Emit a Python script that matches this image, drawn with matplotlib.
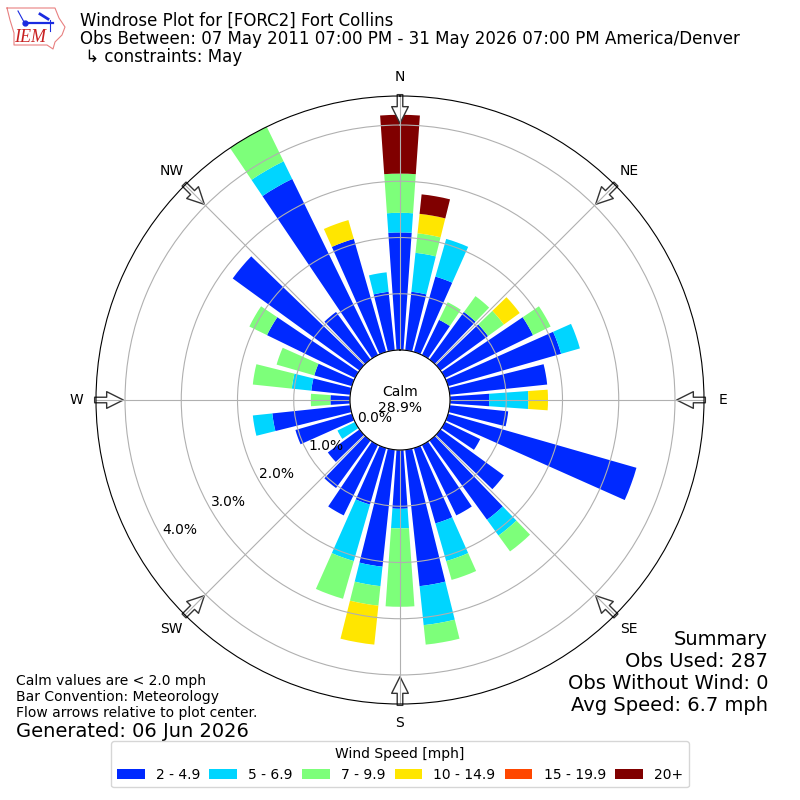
import numpy as np
import matplotlib
matplotlib.use("Agg")
import matplotlib.pyplot as plt

# observation counts per 10 degree direction bin, N going clockwise
directions = np.arange(0, 360, 10)
speed_labels = ["2 - 4.9", "5 - 6.9", "7 - 9.9", "10 - 14.9", "15 - 19.9", "20+"]
counts_2_5 = [6, 3, 4, 2, 3, 3, 5, 6, 5, 2, 3, 10, 2, 4, 5, 4, 4, 7,
              3, 6, 3, 4, 3, 2, 0, 3, 4, 1, 2, 2, 5, 8, 3, 10, 6, 3]
counts_5_7 = [1, 2, 2, 0, 0, 0, 0, 1, 0, 2, 0, 0, 0, 0, 1, 0, 2, 2,
              1, 1, 3, 0, 0, 0, 1, 0, 1, 0, 1, 0, 0, 0, 0, 1, 0, 1]
counts_7_10 = [2, 1, 0, 1, 1, 1, 1, 0, 0, 0, 0, 0, 0, 0, 1, 0, 1, 1,
               4, 1, 2, 0, 0, 0, 0, 0, 0, 1, 2, 2, 1, 0, 0, 2, 0, 0]
counts_10_15 = [0, 1, 0, 0, 0, 1, 0, 0, 0, 1, 0, 0, 0, 0, 0, 0, 0, 0,
                0, 2, 0, 0, 0, 0, 0, 0, 0, 0, 0, 0, 0, 0, 0, 0, 1, 0]
counts_15_20 = [0] * 36
counts_20_up = [3, 1, 0, 0, 0, 0, 0, 0, 0, 0, 0, 0, 0, 0, 0, 0, 0, 0,
                0, 0, 0, 0, 0, 0, 0, 0, 0, 0, 0, 0, 0, 0, 0, 0, 0, 0]
obs_used = 287
calm_pct = 28.9
compass = ["N", "NE", "E", "SE", "S", "SW", "W", "NW"]
rings = [0, 1, 2, 3, 4]

fig = plt.figure(figsize=(8, 8), dpi=100)
ax = fig.add_axes([96 / 800, 96 / 800, 608 / 800, 608 / 800], projection="polar")
ax.set_theta_zero_location("N")
ax.set_theta_direction(-1)

colors = plt.get_cmap("jet")(np.arange(1, 7) / 6)
theta = np.radians(directions)
base = np.zeros(36)
all_counts = [counts_2_5, counts_5_7, counts_7_10, counts_10_15, counts_15_20, counts_20_up]
for vals, color, label in zip(all_counts, colors, speed_labels):
    pct = np.array(vals) / obs_used * 100
    ax.bar(theta, pct, width=np.radians(8), bottom=base, color=color, label=label, linewidth=0)
    base += pct

ax.set_rorigin(-0.889)
ax.set_ylim(0, 4.516)
ax.set_yticks(rings)
ax.set_yticklabels([f"{r:.1f}%" for r in rings])
ax.set_rlabel_position(240)
ax.set_xticks(np.radians(np.arange(0, 360, 45)))
ax.set_xticklabels(compass)
ax.tick_params(axis="x", labelsize=10)
ax.tick_params(axis="y", labelsize=10)
ax.grid(True)

# flow arrows around the rim
for ang in np.arange(0, 360, 45):
    ax.annotate("", xy=(np.radians(ang), 4.03), xytext=(np.radians(ang), 4.54),
                arrowprops=dict(facecolor="white", edgecolor="#333333", width=4,
                                headwidth=12, headlength=12, shrink=0, linewidth=1),
                annotation_clip=False, zorder=1)

ax.text(0.5, 0.5, f"Calm\n{calm_pct}%", transform=ax.transAxes, ha="center", va="center",
        fontsize=10)

fig.text(80 / 800, 1 - 12 / 800,
         "Windrose Plot for [FORC2] Fort Collins\n"
         "Obs Between: 07 May 2011 07:00 PM - 31 May 2026 07:00 PM America/Denver\n"
         " \u21b3 constraints: May", fontsize=12, va="top", ha="left", linespacing=1.0)
fig.text(768 / 800, 1 - 630 / 800,
         f"Summary\nObs Used: {obs_used}\nObs Without Wind: 0\nAvg Speed: 6.7 mph",
         fontsize=14, ha="right", va="top")
fig.text(16 / 800, 1 - 674 / 800,
         "Calm values are < 2.0 mph\nBar Convention: Meteorology\nFlow arrows relative to plot center.",
         fontsize=10, ha="left", va="top")
fig.text(16 / 800, 1 - 741 / 800, "Generated: 06 Jun 2026", fontsize=14, ha="left", va="bottom")

handles, labels = ax.get_legend_handles_labels()
fig.legend(handles, labels, loc="lower center", bbox_to_anchor=(0.5, 0.007), ncol=6,
           title="Wind Speed [mph]", fontsize=10, columnspacing=0.66)

# IEM logo, hand drawn from the page corner
logo = fig.add_axes([0, 1 - 60 / 800, 80 / 800, 60 / 800])
logo.set_xlim(0, 80)
logo.set_ylim(60, 0)
logo.axis("off")
outline_x = [7, 55, 59, 65, 62, 55, 53, 47, 14, 14, 10, 7]
outline_y = [8, 8, 18, 27, 35, 42, 49, 45, 45, 33, 20, 8]
logo.plot(outline_x, outline_y, color="#e88080", lw=0.8)
logo.plot([25, 53], [23, 23], color="#1a2be0", lw=1.6)
logo.plot([18, 24], [11, 22], color="#1a2be0", lw=0.8)
logo.plot([40, 48], [14, 19], color="#1a2be0", lw=2)
logo.plot([50, 50], [20, 31], color="#1a2be0", lw=0.8)
logo.plot([25], [23], "o", color="#1a2be0", ms=3.5)
logo.text(30, 38, "IEM", color="#c82020", style="italic", family="Liberation Serif",
          fontsize=13, ha="center", va="center")

fig.savefig("out.png", dpi=100)
